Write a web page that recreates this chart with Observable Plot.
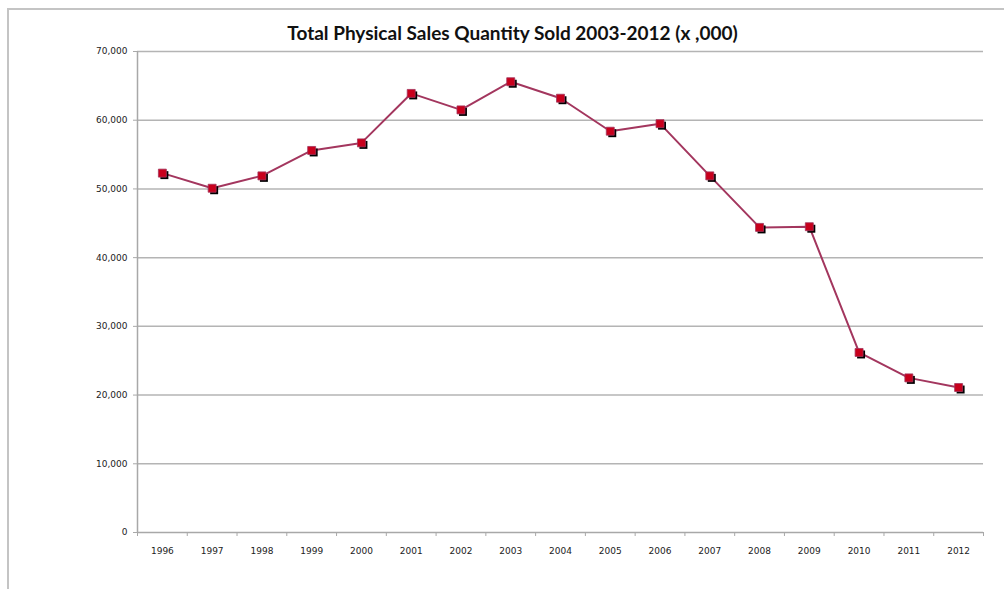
<!DOCTYPE html>
<html>
<head>
<meta charset="utf-8">
<script src="https://cdn.jsdelivr.net/npm/d3@7"></script>
<script src="https://cdn.jsdelivr.net/npm/@observablehq/plot@0.6"></script>
<style>
  html, body { margin: 0; padding: 0; background: #fff; overflow: hidden; }
  body { width: 1004px; height: 589px; position: relative; }
  #frame { position: absolute; left: 7px; top: 8px; width: 1100px; height: 700px; border: 2px solid #c4c4c4; box-sizing: border-box; }
  #title { position: absolute; left: 0; top: 22px; width: 1025px; text-align: center; font-family: Lato, "Open Sans", sans-serif; font-weight: bold; font-size: 19px; line-height: 22px; color: #111; }
  #chart { position: absolute; left: 0; top: 0; }
</style>
</head>
<body>
<div id="frame"></div>
<div id="title">Total Physical Sales Quantity Sold 2003-2012 (x ,000)</div>
<div id="chart"></div>
<script>
const years = [1996, 1997, 1998, 1999, 2000, 2001, 2002, 2003, 2004, 2005, 2006, 2007, 2008, 2009, 2010, 2011, 2012];
const sales = [52300, 50100, 51900, 55600, 56700, 63900, 61500, 65600, 63200, 58400, 59500, 51900, 44400, 44500, 26200, 22500, 21100];
const yTicks = [0, 10000, 20000, 30000, 40000, 50000, 60000, 70000];

const data = years.map((y, i) => ({year: y, value: sales[i]}));
const boundaries = [years[0] - 0.5, ...years.map(y => y + 0.5)];
const fmt = d3.format(",");

const chart = Plot.plot({
  width: 1004,
  height: 589,
  marginLeft: 137,
  marginRight: 21,
  marginTop: 51,
  marginBottom: 57,
  style: {fontFamily: "DejaVu Sans", fontSize: "9px", color: "#222", background: "transparent"},
  x: {type: "linear", domain: [years[0] - 0.5, years[years.length - 1] + 0.5]},
  y: {domain: [0, 70000]},
  marks: [
    Plot.ruleY(yTicks.filter(d => d > 0), {stroke: "#b4b4b4", strokeWidth: 1.5}),
    Plot.ruleY([0], {stroke: "#a8a8a8", strokeWidth: 1.5}),
    Plot.ruleX([years[0] - 0.5], {stroke: "#a8a8a8", strokeWidth: 1.5}),
    Plot.axisY({ticks: yTicks, tickFormat: fmt, tickSize: 4, tickPadding: 6, stroke: "#a8a8a8", label: null}),
    Plot.axisX({ticks: boundaries, tickSize: 4, tickFormat: () => "", stroke: "#a8a8a8", label: null}),
    Plot.axisX({ticks: years, tickSize: 0, tickPadding: 15, tickFormat: d => String(d), label: null}),
    Plot.line(data, {x: "year", y: "value", stroke: "#a3365e", strokeWidth: 2}),
    Plot.dot(data, {x: "year", y: "value", symbol: "square", r: 4.5, fill: "#000", dx: 2, dy: 2}),
    Plot.dot(data, {x: "year", y: "value", symbol: "square", r: 4.5, fill: "#c8001c", stroke: "#a3365e", strokeWidth: 0.8})
  ]
});
document.getElementById("chart").appendChild(chart);
</script>
</body>
</html>
